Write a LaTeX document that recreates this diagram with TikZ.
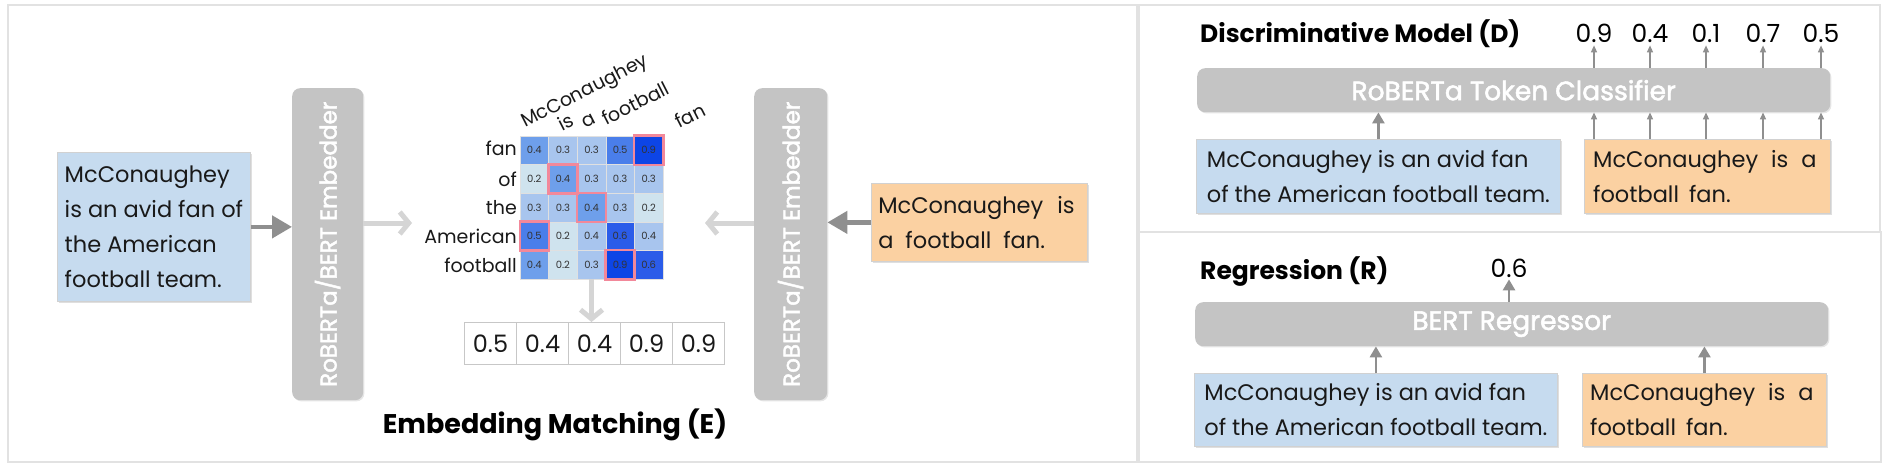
\documentclass[tikz,border=0pt]{standalone}
\usepackage{fontspec}
\setmainfont{Poppins}
\newfontfamily\medfont[FakeBold=2]{Poppins}
\usetikzlibrary{arrows.meta,shadows,calc}
\definecolor{boxblue}{HTML}{C6DBEF}
\definecolor{boxorange}{HTML}{FBD1A2}
\definecolor{modelgrey}{HTML}{C4C4C4}
\definecolor{arrdark}{HTML}{8F8F8F}
\definecolor{arrlight}{HTML}{D5D5D5}
\definecolor{panelline}{HTML}{E2E2E2}
\definecolor{hlpink}{HTML}{F2889A}
\definecolor{cA}{HTML}{CFE3EE}
\definecolor{cB}{HTML}{A8C5EE}
\definecolor{cC}{HTML}{6E9FEB}
\definecolor{cD}{HTML}{4A7EEA}
\definecolor{cE}{HTML}{2B5CE9}
\definecolor{cF}{HTML}{0D45E6}
\tikzset{
  sent/.style={draw=black!18, line width=0.8pt, inner xsep=0pt, inner ysep=0pt, align=left,
    font=\fontsize{22.5}{35}\selectfont, text=black!90,
    drop shadow={shadow xshift=1.2pt, shadow yshift=-1.2pt, opacity=0.25}},
  srcbox/.style={sent, fill=boxblue},
  tgtbox/.style={sent, fill=boxorange},
  model/.style={fill=modelgrey, rounded corners=8pt, text=white, inner sep=0pt,
    font=\medfont\fontsize{26.5}{26.5}\selectfont,
    drop shadow={shadow xshift=1.2pt, shadow yshift=-1.2pt, opacity=0.2}},
  embtext/.style={rotate=90, text=white, font=\medfont\fontsize{23}{23}\selectfont},
  cell/.style={minimum size=28.6pt, inner sep=0pt, draw=black!12, line width=0.5pt,
    font=\fontsize{10}{10}\selectfont, text=black!80},
  hl/.style={draw=hlpink, line width=2.5pt},
  tok/.style={font=\fontsize{19}{19}\selectfont, text=black!90, inner sep=0pt},
  valcell/.style={minimum width=52pt, minimum height=42pt, inner sep=0pt, draw=black!22,
    line width=1pt, font=\fontsize{24}{24}\selectfont, text=black!90},
  titlebig/.style={font=\bfseries\fontsize{27}{27}\selectfont, text=black},
  titlesm/.style={font=\bfseries\fontsize{25}{25}\selectfont, text=black, inner sep=0pt},
  num/.style={font=\fontsize{25}{25}\selectfont, text=black, inner sep=2pt},
  darkarr/.style={draw=arrdark, line width=4.5pt, -{Triangle[length=20pt,width=22pt]}},
  lightarr/.style={draw=arrlight, line width=5pt, -{Straight Barb[length=9pt,width=22pt]}},
  thinarr/.style={draw=arrdark, line width=1.3pt, -{Triangle[length=7pt,width=6pt]}},
  medarr/.style={draw=arrdark, line width=2.6pt, -{Triangle[length=11pt,width=12pt]}},
  panel/.style={draw=panelline, line width=2pt}
}
\begin{document}
\begin{tikzpicture}[x=1pt,y=-1pt]
\useasboundingbox (0,0) rectangle (1887,468);
% panels
\draw[panel] (8,5) rectangle (1137,462);
\draw[panel] (1139,5) rectangle (1880,232);
\draw[panel] (1139,232) rectangle (1881,462);

% ---------- Embedding matching ----------
\node[srcbox, minimum width=193pt, minimum height=149pt, anchor=north west] (srcL) at (57,152)
  {McConaughey\\is an avid fan of\\the American\\football team.};
\node[model, minimum width=71pt, minimum height=312pt, anchor=north west,
  label={[embtext]center:RoBERTa/BERT Embedder}] (embL) at (292,88) {};
\node[model, minimum width=73pt, minimum height=312pt, anchor=north west,
  label={[embtext]center:RoBERTa/BERT Embedder}] (embR) at (754,88) {};
\node[tgtbox, minimum width=216pt, minimum height=78pt, anchor=north west] (tgtL) at (871,183)
  {McConaughey\hspace{14pt}is\rule{6pt}{0pt}\\a\hspace{12pt}football\hspace{12pt}fan.};

\foreach \rowlist [count=\r] in {
  {cC/0.4,cB/0.3,cB/0.3,cD/0.5,cF/0.9},
  {cA/0.2,cC/0.4,cB/0.3,cB/0.3,cB/0.3},
  {cB/0.3,cB/0.3,cC/0.4,cB/0.3,cA/0.2},
  {cD/0.5,cA/0.2,cB/0.4,cE/0.6,cB/0.4},
  {cC/0.4,cA/0.2,cB/0.3,cF/0.9,cE/0.6}}
{
  \foreach \cc/\vv [count=\c] in \rowlist {
    \node[cell, fill=\cc] (m\r\c) at ({520+(\c-0.5)*28.6},{136+(\r-0.5)*28.6}) {\vv};
  }
}
\foreach \n in {m15,m22,m33,m41,m54}
  \draw[hl] (\n.north west) rectangle (\n.south east);

\node[tok, anchor=base east] (r1) at (517,156) {fan};
\node[tok, anchor=base east] (r2) at (517,186) {of};
\node[tok, anchor=base east] (r3) at (517,214) {the};
\node[tok, anchor=base east] (r4) at (517,243) {American};
\node[tok, anchor=base east] (r5) at (517,272) {football};

\node[tok, anchor=base west, rotate=27] (c1) at (525,128) {McConaughey};
\node[tok, anchor=base west, rotate=27] (c2) at (562,132) {is};
\node[tok, anchor=base west, rotate=27] (c3) at (585,129) {a};
\node[tok, anchor=base west, rotate=27] (c4) at (606,126) {football};
\node[tok, anchor=base west, rotate=27] (c5) at (679,129) {fan};

\foreach \v [count=\i] in {0.5,0.4,0.4,0.9,0.9}
  \node[valcell, anchor=north west] (v\i) at ({464+(\i-1)*52},322) {\v};

\node[titlebig] (tE) at (555,425) {Embedding Matching (E)};

\coordinate (inL) at (412,223);
\coordinate (inR) at (705,223);
\draw[darkarr] (srcL.east) -- (srcL.east -| embL.west);
\draw[lightarr] (embL.east |- inL) -- (inL);
\draw[darkarr] (tgtL.west) -- (tgtL.west -| embR.east);
\draw[lightarr] (embR.west |- inR) -- (inR);
\draw[lightarr] (m53.south) -- (m53.south |- v3.north);

% ---------- Discriminative model ----------
\node[titlesm, anchor=base west] (tD) at (1200,43) {Discriminative Model (D)};
\node[model, minimum width=633pt, minimum height=44pt, anchor=north west] (clsD) at (1197,68)
  {RoBERTa Token Classifier};
\node[srcbox, minimum width=364pt, minimum height=74pt, anchor=north west] (srcD) at (1196,139)
  {McConaughey is an avid fan\\of the American football team.};
\node[tgtbox, minimum width=246pt, minimum height=74pt, anchor=north west] (tgtD) at (1584,139)
  {McConaughey\hspace{13pt}is\hspace{13pt}a\rule{5pt}{0pt}\\football\hspace{10pt}fan.};
\foreach \x/\v [count=\i] in {1594/0.9,1650/0.4,1706/0.1,1763/0.7,1821/0.5}
  \node[num, anchor=base] (oD\i) at (\x,43) {\v};
\foreach \i in {1,...,5} {
  \draw[thinarr] (oD\i |- clsD.north) -- (oD\i.south);
  \draw[thinarr] (oD\i |- tgtD.north) -- (oD\i |- clsD.south);
}
\draw[medarr] (srcD.north) -- (srcD.north |- clsD.south);

% ---------- Regression ----------
\node[titlesm, anchor=base west] (tR) at (1200,279) {Regression (R)};
\node[model, minimum width=633pt, minimum height=44pt, anchor=north west] (regR) at (1195,302)
  {BERT Regressor};
\node[num, anchor=base] (oR) at (1509,277) {0.6};
\node[srcbox, minimum width=363pt, minimum height=73pt, anchor=north west] (srcR) at (1194,373)
  {McConaughey is an avid fan\\of the American football team.};
\node[tgtbox, minimum width=244pt, minimum height=73pt, anchor=north west] (tgtR) at (1582,373)
  {McConaughey\hspace{13pt}is\hspace{13pt}a\rule{5pt}{0pt}\\football\hspace{10pt}fan.};
\draw[medarr] (oR |- regR.north) -- (oR.south);
\draw[medarr] (srcR.north) -- (srcR.north |- regR.south);
\draw[medarr] (tgtR.north) -- (tgtR.north |- regR.south);
\end{tikzpicture}
\end{document}
